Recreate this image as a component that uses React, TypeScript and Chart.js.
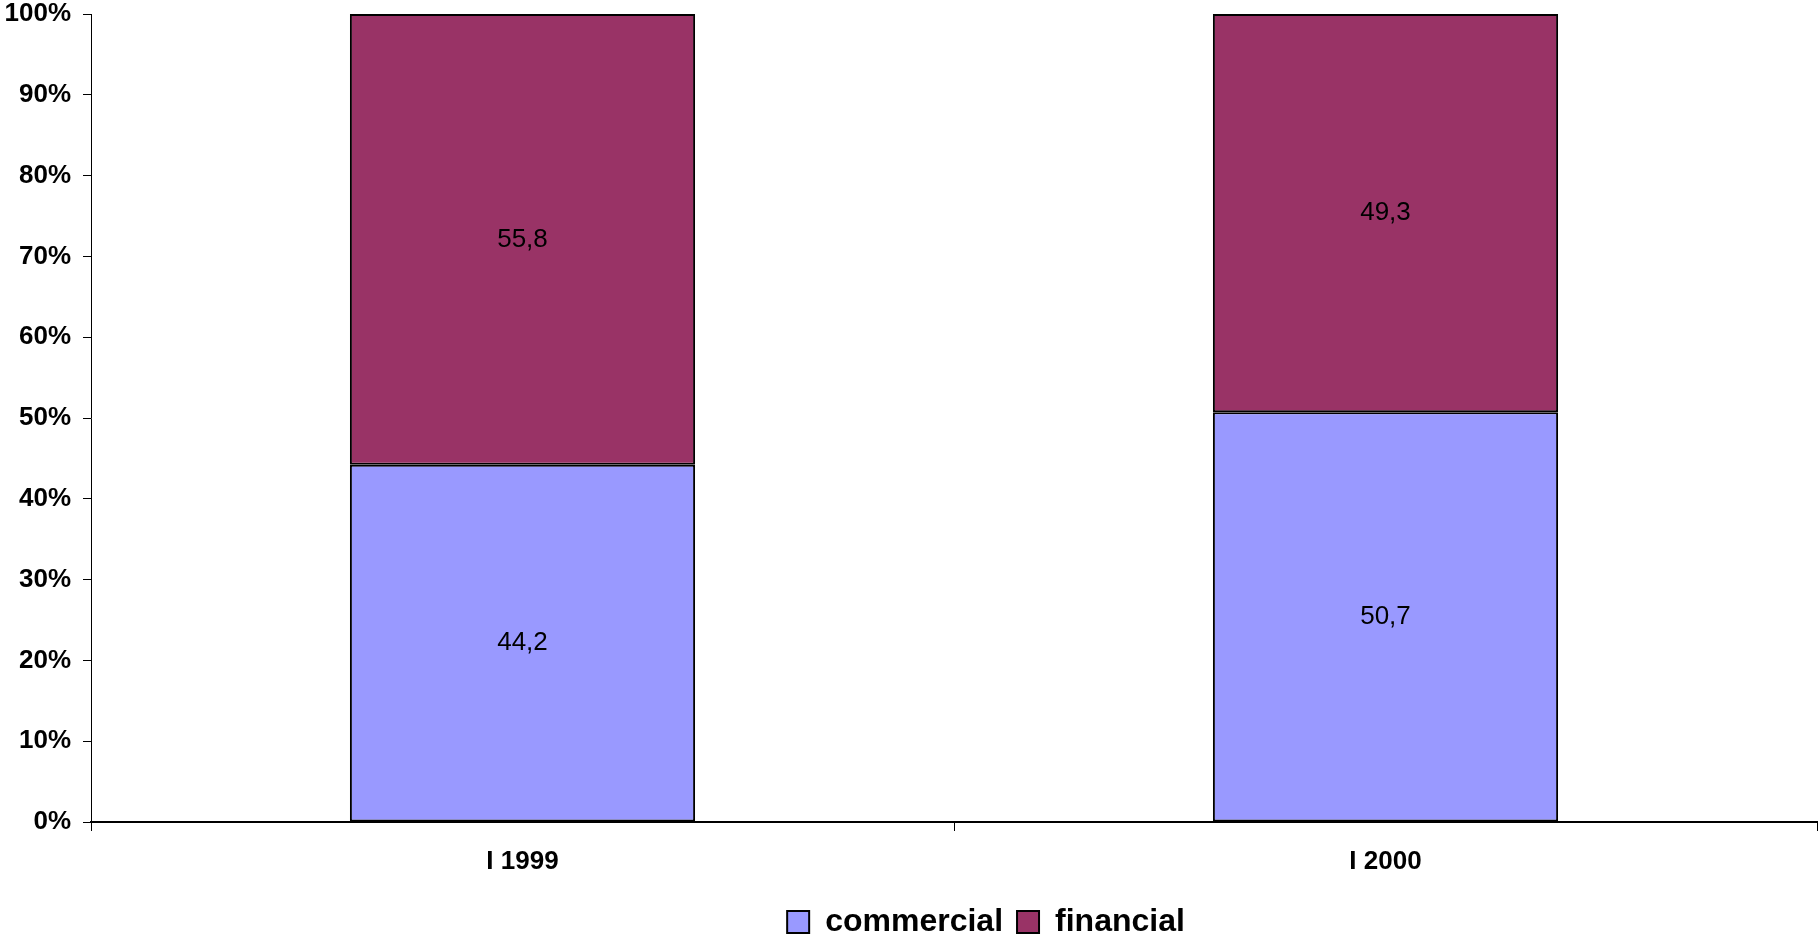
import React, { useEffect, useRef } from "react";
import { Chart, registerables } from "chart.js";

Chart.register(...registerables);

const categories = ["I 1999", "I 2000"];
const commercial = [44.2, 50.7];
const financial = [55.8, 49.3];
const yTicks = [0, 10, 20, 30, 40, 50, 60, 70, 80, 90, 100];

const FONT = "'Liberation Sans', Arial, Helvetica, sans-serif";

// Writes each segment's value in the middle of its bar piece
const segmentLabels = {
  id: "segmentLabels",
  afterDatasetsDraw(chart: any) {
    const { ctx } = chart;
    ctx.save();
    ctx.font = `26px ${FONT}`;
    ctx.fillStyle = "#000";
    ctx.textAlign = "center";
    ctx.textBaseline = "middle";
    chart.data.datasets.forEach((ds: any, di: number) => {
      const meta = chart.getDatasetMeta(di);
      meta.data.forEach((bar: any, i: number) => {
        const v = ds.data[i] as number;
        const y = (bar.y + bar.base) / 2;
        ctx.fillText(v.toFixed(1).replace(".", ","), bar.x, y);
      });
    });
    ctx.restore();
  },
};

// Nudges the legend row a little to the right of the plot centre
const legendShift = {
  id: "legendShift",
  afterLayout(chart: any) {
    if (chart.legend) {
      chart.legend.left += 32;
      chart.legend.right += 32;
    }
  },
};

export default function App() {
  const ref = useRef<HTMLCanvasElement | null>(null);

  useEffect(() => {
    if (!ref.current) return;
    const chart = new Chart(ref.current, {
      type: "bar",
      data: {
        labels: categories,
        datasets: [
          {
            label: "commercial",
            data: commercial,
            backgroundColor: "#9999FF",
            borderColor: "#000",
            borderWidth: 2,
            borderSkipped: false,
            barPercentage: 0.4,
            categoryPercentage: 1,
          },
          {
            label: "financial",
            data: financial,
            backgroundColor: "#993366",
            borderColor: "#000",
            borderWidth: 2,
            borderSkipped: false,
            barPercentage: 0.4,
            categoryPercentage: 1,
          },
        ],
      },
      options: {
        animation: false,
        responsive: true,
        maintainAspectRatio: false,
        layout: { padding: { top: 0, right: 1, left: 0, bottom: -11 } },
        plugins: {
          tooltip: { enabled: false },
          legend: {
            position: "bottom",
            fullSize: false,
            labels: {
              color: "#000",
              font: { family: FONT, size: 32, weight: "bold" },
              boxWidth: 22,
              boxHeight: 22,
              padding: 14,
            },
          },
        },
        scales: {
          x: {
            stacked: true,
            afterFit(scale: any) {
              scale.height = 70;
            },
            grid: {
              display: true,
              drawOnChartArea: false,
              drawTicks: true,
              tickLength: 9,
              color: "#000",
              offset: true,
            },
            border: { display: true, color: "#000", width: 2 },
            ticks: {
              color: "#000",
              padding: 15,
              font: { family: FONT, size: 26, weight: "bold" },
            },
          },
          y: {
            stacked: true,
            min: 0,
            max: 100,
            afterFit(scale: any) {
              scale.width = 91;
              scale.paddingTop = 14;
            },
            afterBuildTicks(scale: any) {
              scale.ticks = yTicks.map((v) => ({ value: v }));
            },
            grid: {
              display: true,
              drawOnChartArea: false,
              drawTicks: true,
              tickLength: 8,
              color: "#000",
            },
            border: { display: true, color: "#000", width: 1 },
            ticks: {
              color: "#000",
              padding: 12,
              font: { family: FONT, size: 26, weight: "bold", lineHeight: 1.1 },
              callback: (v: any) => `${v}%`,
            },
          },
        },
      },
      plugins: [segmentLabels, legendShift],
    });
    return () => chart.destroy();
  }, []);

  return (
    <div style={{ position: "absolute", left: 0, top: 0, width: 1818, height: 937, background: "#fff" }}>
      <canvas ref={ref} />
    </div>
  );
}
